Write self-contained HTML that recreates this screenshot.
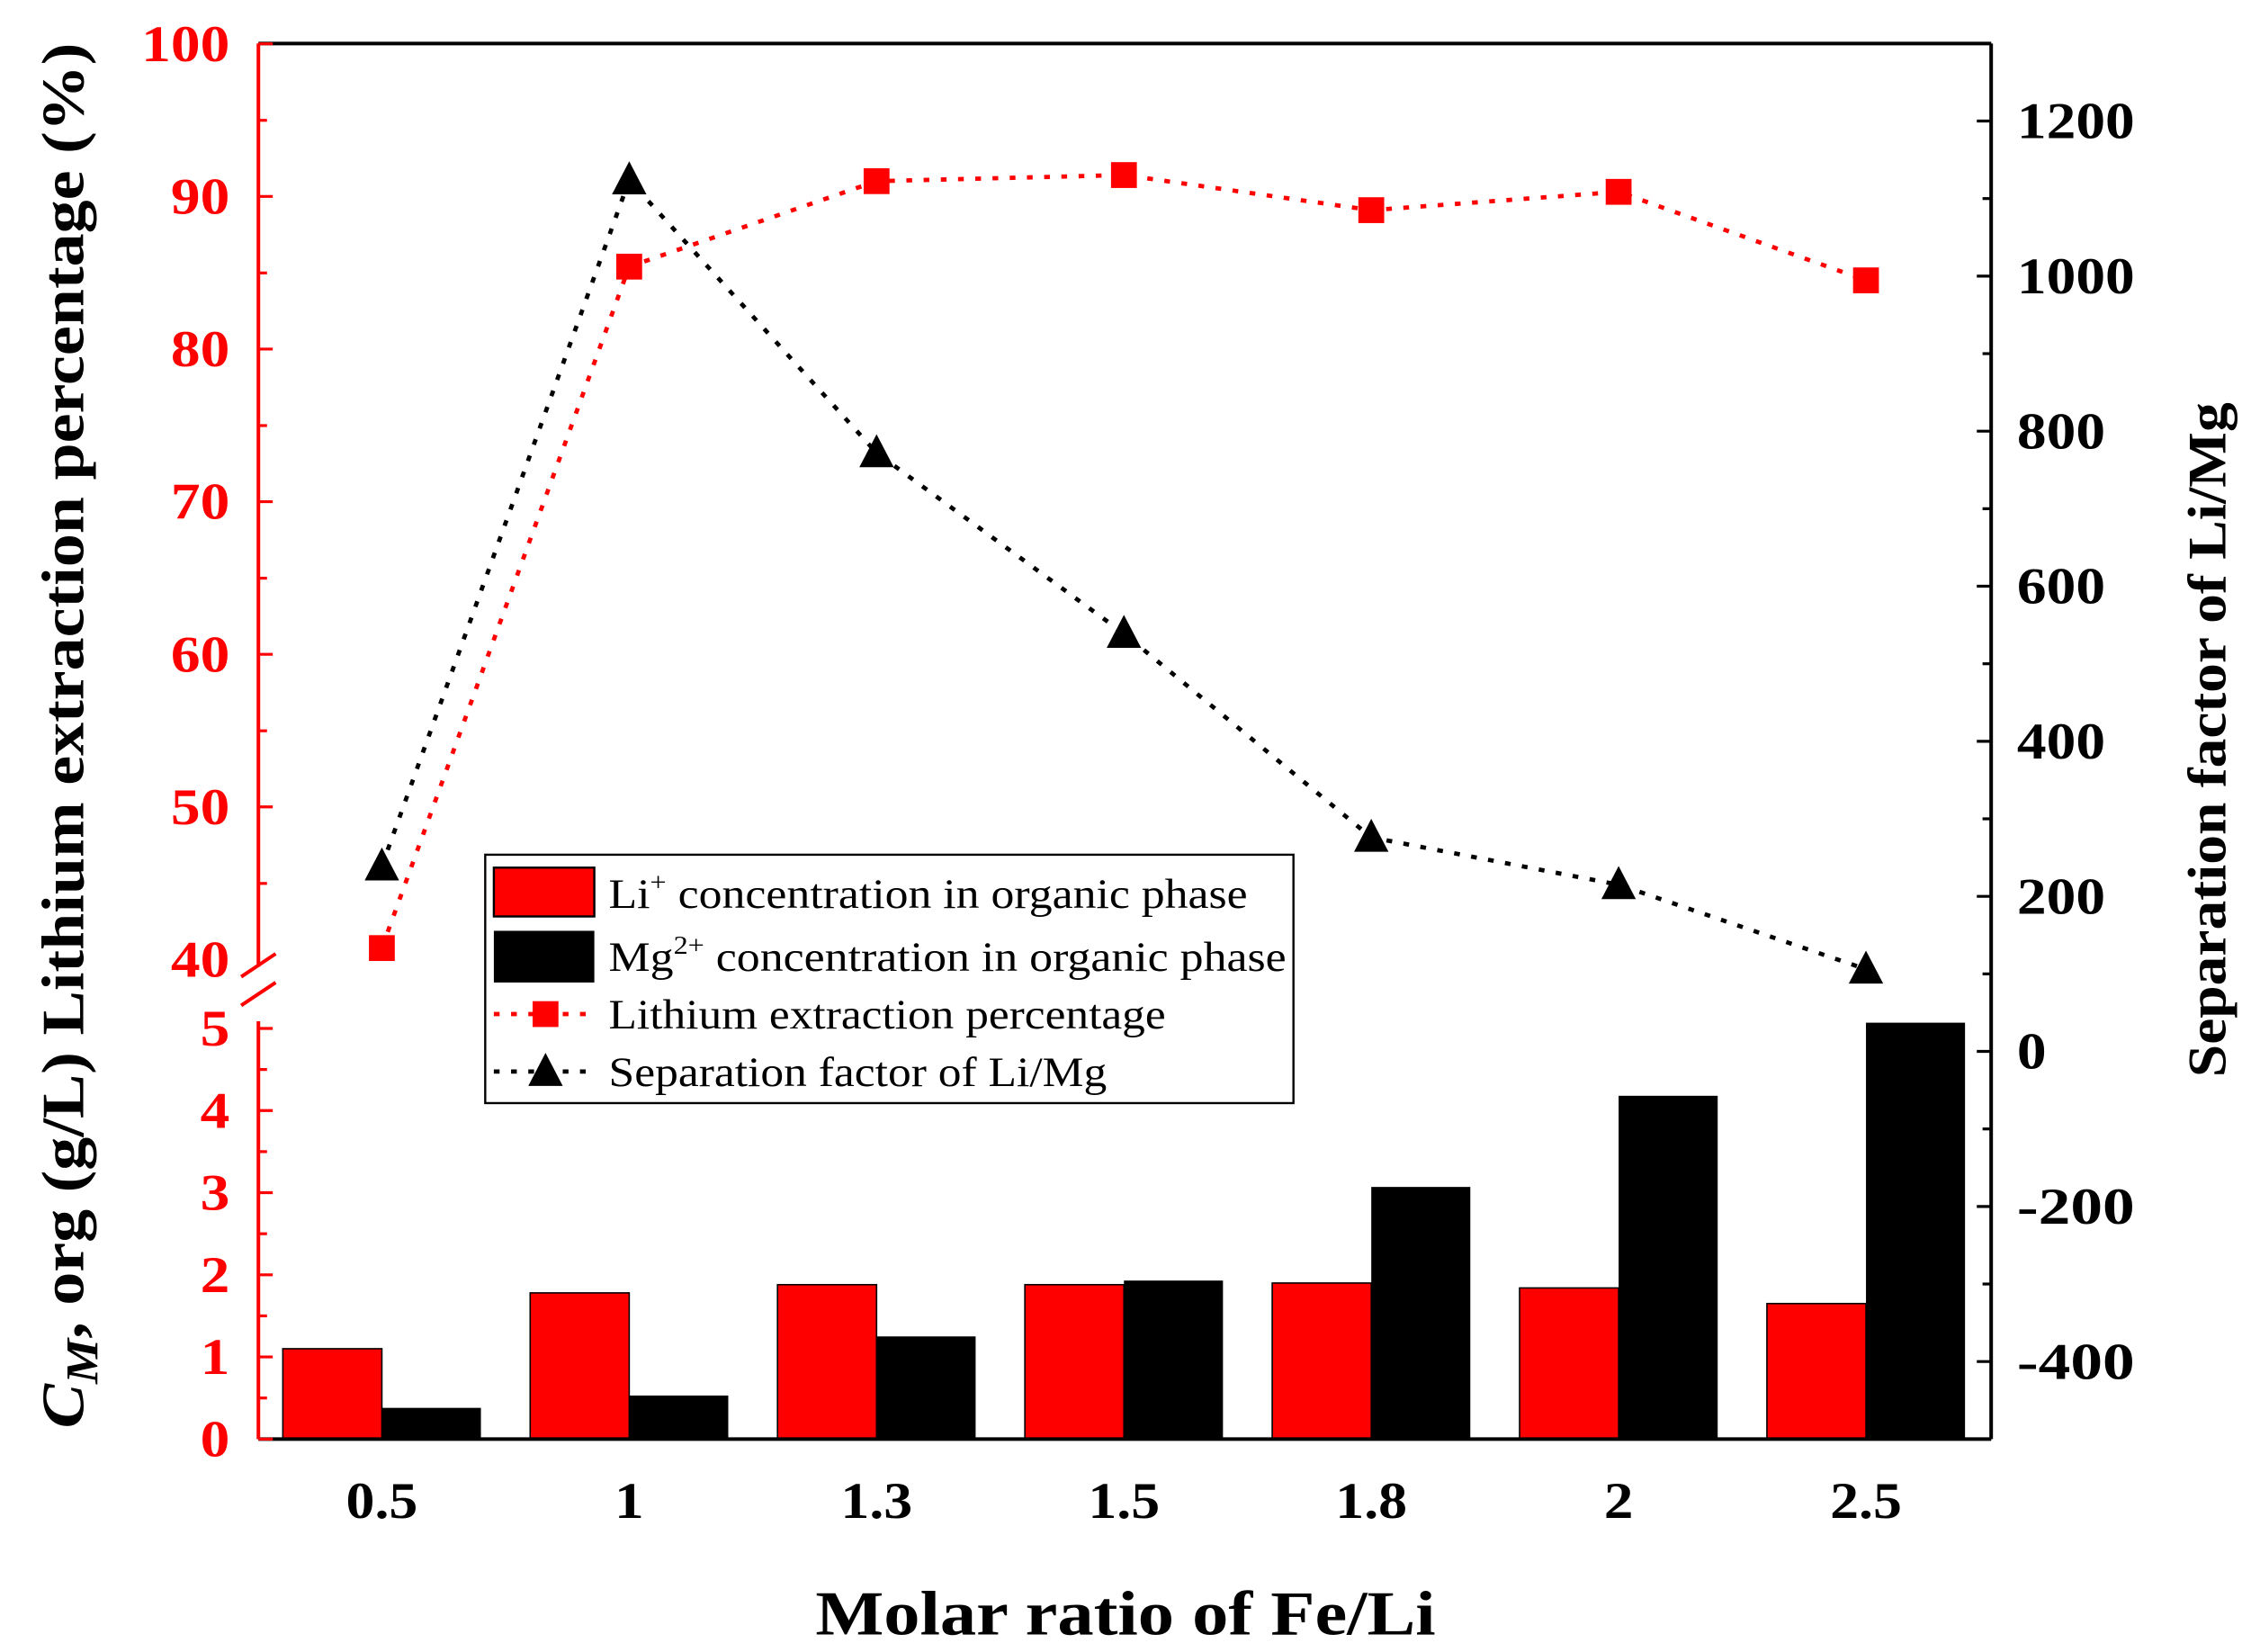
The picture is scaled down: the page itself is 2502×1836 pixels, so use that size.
<!DOCTYPE html>
<html><head><meta charset="utf-8"><style>html,body{margin:0;padding:0;background:#fff}svg{display:block}</style></head>
<body>
<svg id="chart" width="2502" height="1836" viewBox="0 0 1568 1150" xmlns="http://www.w3.org/2000/svg" font-family="'Liberation Serif', serif"></svg>
<script>
const categories = ["0.5","1","1.3","1.5","1.8","2","2.5"];
const liConc = [1.1,1.78,1.88,1.88,1.9,1.84,1.65];
const mgConc = [0.38,0.53,1.25,1.93,3.07,4.18,5.07];
const liPct = [40.75,85.4,91.0,91.4,89.1,90.3,84.5];
const sepFactor = [239,1124,772,539,276,215,106];
const leftUpperTicks = [40,50,60,70,80,90,100];
const leftLowerTicks = [0,1,2,3,4,5];
const rightTicks = [-400,-200,0,200,400,600,800,1000,1200];

const svg = document.getElementById('chart');
const NS = 'http://www.w3.org/2000/svg';
function mk(tag, attrs, parent){const e=document.createElementNS(NS,tag);for(const k in attrs)e.setAttribute(k,attrs[k]);(parent||svg).appendChild(e);return e;}
const L=180,R=1387,T=30,B=1002;
const xC = i => 266 + i*172.3;
const yUp = v => 668 - (v-40)*10.63;
const yLow = v => 1002 - v*57.2;
const yR = v => 732 - v*0.54;
const CW = 20.5; // per-char width for tick labels

categories.forEach((c,i)=>{
  const r=mk('rect',{x:xC(i)-69,y:yLow(liConc[i]),width:69,height:yLow(0)-yLow(liConc[i]),fill:'#ff0000',stroke:'#000','stroke-width':1});
  
  
  const b=mk('rect',{x:xC(i),y:yLow(mgConc[i]),width:69,height:yLow(0)-yLow(mgConc[i]),fill:'#000'});
  
  
});

mk('line',{x1:L,y1:T,x2:R,y2:T,stroke:'#000','stroke-width':2.5});
mk('line',{x1:R,y1:T,x2:R,y2:B,stroke:'#000','stroke-width':2.5});
mk('line',{x1:L,y1:B,x2:R,y2:B,stroke:'#000','stroke-width':2.5});
const la=mk('path',{d:`M${L},${T}V673M${L},711V${B}`,stroke:'#ff0000','stroke-width':2.5,fill:'none'});


mk('path',{d:'M168,680L192,664M168,700L192,684',stroke:'#ff0000','stroke-width':2.5,fill:'none'});

function tickText(x,y,txt,anchor,color,name){
  const len=String(txt).replace('.','').length*CW+(String(txt).includes('.')?9:0);
  const t=mk('text',{x:x,y:y,'text-anchor':anchor,'font-size':36,'font-weight':'bold',fill:color,textLength:len,lengthAdjust:'spacingAndGlyphs'});
  t.textContent=txt;
  
  
}
leftUpperTicks.forEach(v=>{
  const y=yUp(v);
  if(v>40) mk('line',{x1:L,y1:y,x2:L+10,y2:y,stroke:'#ff0000','stroke-width':2});
  if(v<100) mk('line',{x1:L,y1:y-53,x2:L+6,y2:y-53,stroke:'#ff0000','stroke-width':2});
  tickText(160,y+12,v,'end','#ff0000','left-tick-label');
});
leftLowerTicks.forEach(v=>{
  const y=yLow(v);
  mk('line',{x1:L,y1:y,x2:L+10,y2:y,stroke:'#ff0000','stroke-width':2});
  if(v<5) mk('line',{x1:L,y1:y-28.6,x2:L+6,y2:y-28.6,stroke:'#ff0000','stroke-width':2});
  tickText(160,y+12,v,'end','#ff0000','left-tick-label');
});
rightTicks.forEach(v=>{
  const y=yR(v);
  mk('line',{x1:R,y1:y,x2:R-10,y2:y,stroke:'#000','stroke-width':2});
  mk('line',{x1:R,y1:y+54,x2:R-6,y2:y+54,stroke:'#000','stroke-width':2});
  tickText(1405,y+12,v,'start','#000','right-tick-label');
});
mk('line',{x1:R,y1:yR(1200)-54,x2:R-6,y2:yR(1200)-54,stroke:'#000','stroke-width':2});
categories.forEach((c,i)=>{
  tickText(xC(i),1057,c,'middle','#000','x-tick-label');
});

const lp=mk('polyline',{points:liPct.map((v,i)=>xC(i)+','+yUp(v)).join(' '),fill:'none',stroke:'#ff0000','stroke-width':3,'stroke-dasharray':'4,8'});


const sp=mk('polyline',{points:sepFactor.map((v,i)=>xC(i)+','+yR(v)).join(' '),fill:'none',stroke:'#000','stroke-width':3,'stroke-dasharray':'4,8'});


liPct.forEach((v,i)=>{
  const m=mk('rect',{x:xC(i)-9,y:yUp(v)-9,width:18,height:18,fill:'#ff0000'});
  
  
});
sepFactor.forEach((v,i)=>{
  const x=xC(i),y=yR(v);
  const m=mk('polygon',{points:`${x},${y-13} ${x-12},${y+10} ${x+12},${y+10}`,fill:'#000'});
  
  
});

const lg=mk('g',{});


mk('rect',{x:338,y:595,width:563,height:173,fill:'#fff',stroke:'#000','stroke-width':1.5},lg);
mk('rect',{x:344,y:604,width:70,height:34,fill:'#ff0000',stroke:'#000','stroke-width':1.5},lg);
mk('rect',{x:344,y:648,width:70,height:36,fill:'#000'},lg);
mk('line',{x1:344,y1:706,x2:414,y2:706,stroke:'#ff0000','stroke-width':3,'stroke-dasharray':'4,8'},lg);
mk('rect',{x:371,y:697,width:18,height:18,fill:'#ff0000'},lg);
mk('line',{x1:344,y1:746,x2:414,y2:746,stroke:'#000','stroke-width':3,'stroke-dasharray':'4,8'},lg);
mk('polygon',{points:'380,733 368,756 392,756',fill:'#000'},lg);
const lt=[['Li<tspan dy="-12" font-size="18">+</tspan><tspan dy="12"> concentration in organic phase</tspan>',632,445],
['Mg<tspan dy="-12" font-size="18">2+</tspan><tspan dy="12"> concentration in organic phase</tspan>',676,472],
['Lithium extraction percentage',716,388],['Separation factor of Li/Mg',756,347]];
lt.forEach(([h,y,w])=>{const t=mk('text',{x:424,y:y,'font-size':29,textLength:w,lengthAdjust:'spacingAndGlyphs'},lg);t.innerHTML=h;
  
  });

const xt=mk('text',{x:784,y:1138,'text-anchor':'middle','font-size':44,'font-weight':'bold',textLength:432,lengthAdjust:'spacingAndGlyphs'});xt.textContent='Molar ratio of Fe/Li';


const yt=mk('text',{transform:'translate(58,512) rotate(-90)','text-anchor':'middle','font-size':42,'font-weight':'bold',textLength:965,lengthAdjust:'spacingAndGlyphs'});
yt.innerHTML='<tspan font-style="italic">C</tspan><tspan font-style="italic" font-size="32" dy="10">M</tspan><tspan dy="-10">, org (g/L) Lithium extraction percentage (%)</tspan>';


const rt=mk('text',{transform:'translate(1550,515) rotate(-90)','text-anchor':'middle','font-size':38,'font-weight':'bold',textLength:470,lengthAdjust:'spacingAndGlyphs'});rt.textContent='Separation factor of Li/Mg';


</script>
</body></html>
